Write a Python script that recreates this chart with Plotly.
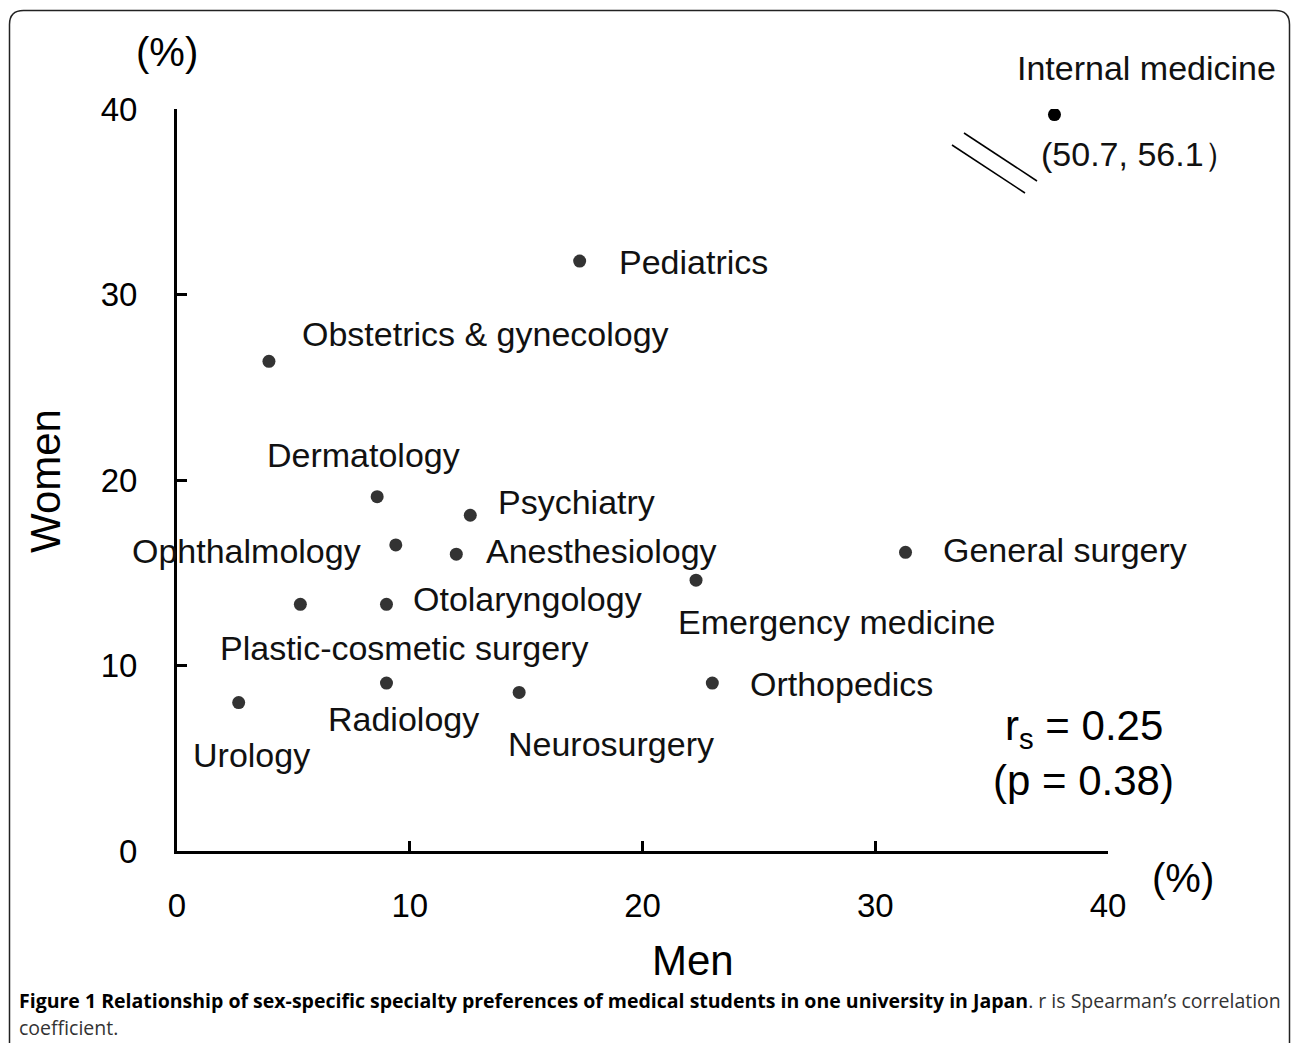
import plotly.graph_objects as go

W, H = 1292, 1043

# ---- data (percent choosing specialty) ----
specialties = ["Pediatrics", "Obstetrics & gynecology", "Dermatology", "Psychiatry",
               "Ophthalmology", "Anesthesiology", "General surgery", "Otolaryngology",
               "Emergency medicine", "Plastic-cosmetic surgery", "Orthopedics",
               "Radiology", "Neurosurgery", "Urology"]
men = [17.3, 3.95, 8.6, 12.6, 9.4, 12.0, 31.3, 9.0, 22.3, 5.3, 23.0, 9.0, 14.7, 2.65]
women = [31.8, 26.4, 19.1, 18.1, 16.5, 16.0, 16.1, 13.3, 14.6, 13.3, 9.05, 9.05, 8.55, 8.0]

# label placement (pixel offsets from point, anchor)
label_dx = [37, 31, -14, 26, -33, 28, 35, 25, 140, 104, 36, 17, 92, 13]
label_dy = [-1, 27, 42, 13, -6, 3, 2, 5, -42, -44, -1, -36, -52, -52]
label_anchor = ["left", "left", "center", "left", "right", "left", "left", "left",
                "center", "center", "left", "center", "center", "center"]

# Internal medicine: off-scale point drawn at broken position
outlier_name = "Internal medicine"
outlier_values = (50.7, 56.1)
outlier_display = (37.7, 39.7)

x_ticks = [0, 10, 20, 30, 40]
y_ticks = [0, 10, 20, 30, 40]

FONT = "Liberation Sans, Arial, sans-serif"
LBL = 34

fig = go.Figure()
fig.add_trace(go.Scatter(x=men, y=women, mode="markers",
                         marker=dict(size=13, color="#333333"), hoverinfo="skip",
                         showlegend=False))
fig.add_trace(go.Scatter(x=[outlier_display[0]], y=[outlier_display[1]], mode="markers",
                         marker=dict(size=13, color="#000000"), hoverinfo="skip",
                         showlegend=False))

ann = []
for name, x, y, dx, dy, a in zip(specialties, men, women, label_dx, label_dy, label_anchor):
    ann.append(dict(x=x, y=y, xref="x", yref="y", text=name, showarrow=False,
                    xanchor=a, yanchor="middle", xshift=dx, yshift=dy,
                    font=dict(family=FONT, size=LBL, color="#111")))
ann.append(dict(x=outlier_display[0], y=outlier_display[1], xref="x", yref="y",
                text=outlier_name, showarrow=False, xanchor="center", yanchor="middle",
                xshift=92, yshift=47, font=dict(family=FONT, size=LBL, color="#111")))
ann.append(dict(x=outlier_display[0], y=outlier_display[1], xref="x", yref="y",
                text="(%.1f, %.1f）" % outlier_values, showarrow=False, xanchor="left",
                yanchor="middle", xshift=-15, yshift=-39,
                font=dict(family=FONT, size=LBL, color="#111")))

def px(x):
    return x / W

def py(y):
    return 1 - y / H

def txt(x, y, text, size, family=FONT, angle=0, xa="center", color="#000"):
    return dict(x=px(x), y=py(y), xref="paper", yref="paper", text=text,
                textangle=angle, showarrow=False, xanchor=xa, yanchor="middle",
                align="left", font=dict(family=family, size=size, color=color))

# axis titles and units
ann.append(txt(45, 481, "Women", 42, angle=-90))
ann.append(txt(693, 960, "Men", 42))
ann.append(txt(167, 52, "(%)", 40))
ann.append(txt(1183, 878, "(%)", 40))
# statistics
ann.append(txt(1084, 728, "r<sub>s</sub> = 0.25", 42))
ann.append(txt(1083, 780, "(p = 0.38)", 42))
# caption
CAP = "Open Sans, sans-serif"
ann.append(txt(17, 1000, "<b style='color:#000'>Figure 1 Relationship of sex-specific specialty "
                         "preferences of medical students in one university in Japan</b>. "
                         "r is Spearman\u2019s correlation",
               19.5, family=CAP, xa="left", color="#333"))
ann.append(txt(17, 1027, "coefficient.", 19.5, family=CAP, xa="left", color="#333"))

shapes = []
# axis break marks
shapes.append(dict(type="line", xref="paper", yref="paper", x0=px(952), y0=py(145),
                   x1=px(1025), y1=py(193), line=dict(color="#000", width=1.5)))
shapes.append(dict(type="line", xref="paper", yref="paper", x0=px(964), y0=py(133),
                   x1=px(1037), y1=py(181), line=dict(color="#000", width=1.5)))
# outer rounded frame (open at the bottom, runs off the page)
r = 14
L, T, R, B = 9.5, 10.5, 1289.5, 1043
path = (f"M {px(L)},{py(B)} L {px(L)},{py(T + r)} Q {px(L)},{py(T)} {px(L + r)},{py(T)} "
        f"L {px(R - r)},{py(T)} Q {px(R)},{py(T)} {px(R)},{py(T + r)} L {px(R)},{py(B)}")
shapes.append(dict(type="path", xref="paper", yref="paper", path=path,
                   line=dict(color="#222", width=1.5)))

fig.update_layout(
    width=W, height=H, margin=dict(l=0, r=0, t=0, b=0, pad=0, autoexpand=False),
    paper_bgcolor="white", plot_bgcolor="white",
    xaxis=dict(domain=[177 / W, 1108 / W], range=[0, 40], tickvals=x_ticks,
               showgrid=False, zeroline=False, showline=True, linecolor="#000", linewidth=3,
               ticks="inside", ticklen=10, tickwidth=3, tickcolor="#000", automargin=False,
               ticklabelstandoff=23, tickfont=dict(family=FONT, size=33, color="#000")),
    yaxis=dict(domain=[1 - 851 / H, 1 - 109 / H], range=[0, 40], tickvals=y_ticks,
               showgrid=False, zeroline=False, showline=True, linecolor="#000", linewidth=3,
               ticks="inside", ticklen=10, tickwidth=3, tickcolor="#000", automargin=False,
               ticklabelstandoff=30, tickfont=dict(family=FONT, size=33, color="#000")),
    annotations=ann, shapes=shapes,
)

fig.write_html("out.html", config={"displayModeBar": False},
               post_script="document.documentElement.style.margin='0';"
                           "document.body.style.margin='0';"
                           "document.body.style.overflow='hidden';")
